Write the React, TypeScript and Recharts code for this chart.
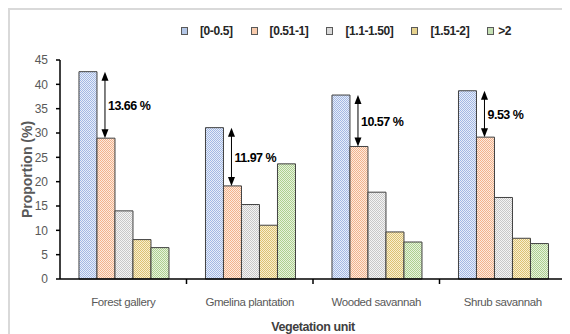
import React from "react";
import { BarChart, Bar, XAxis, YAxis, Legend, Rectangle } from "recharts";

const categories = ["Forest gallery", "Gmelina plantation", "Wooded savannah", "Shrub savannah"];
const classes = ["[0-0.5]", "[0.51-1]", "[1.1-1.50]", "[1.51-2]", ">2"];
const class1 = [42.6, 31.1, 37.8, 38.68];
const class2 = [28.94, 19.13, 27.23, 29.15];
const class3 = [14.0, 15.3, 17.84, 16.75];
const class4 = [8.1, 11.05, 9.67, 8.37];
const class5 = [6.45, 23.66, 7.6, 7.28];
const yTicks = [0, 5, 10, 15, 20, 25, 30, 35, 40, 45];

const series = [class1, class2, class3, class4, class5];
const keys = ["c1", "c2", "c3", "c4", "c5"];

// dotted fills: two-tone checker per class
const patterns = [
  { id: "pBlue", dark: "#a3b8e4", light: "#e8eef9", swatch: "#b4c7e7" },
  { id: "pOrange", dark: "#f2b38c", light: "#fdeade", swatch: "#f8cbad" },
  { id: "pGray", dark: "#c8c8c8", light: "#f4f4f4", swatch: "#d9d9d9" },
  { id: "pYellow", dark: "#dcc172", light: "#f8efd0", swatch: "#e6d28e" },
  { id: "pGreen", dark: "#add08f", light: "#e7f2de", swatch: "#c5e0b4" },
];

const data = categories.map((name, i) => {
  const row: any = { name };
  keys.forEach((k, j) => (row[k] = series[j][i]));
  return row;
});

const FONT = "'Liberation Sans', Arial, sans-serif";

// orange bar plus the double arrow up to the blue bar top and the gap label
const GapBar = (props: any) => {
  const { x, y, width, height, index, value, fill } = props;
  const top = class1[index];
  const diff = (top - class2[index]).toFixed(2);
  const unit = height / value;
  const topY = y + height - top * unit;
  const ax = x + width / 2 - 1;
  const head = 8;
  return (
    <g>
      <Rectangle x={x} y={y} width={width} height={height} fill={fill} stroke="#404040" strokeWidth={1} />
      <line x1={ax} x2={ax} y1={topY + head} y2={y - head} stroke="#000" strokeWidth={1} />
      <polygon points={`${ax},${topY} ${ax - 3.5},${topY + head + 1} ${ax + 3.5},${topY + head + 1}`} fill="#000" />
      <polygon points={`${ax},${y} ${ax - 3.5},${y - head - 1} ${ax + 3.5},${y - head - 1}`} fill="#000" />
      <text
        x={ax + 3}
        y={(topY + y) / 2 + 5}
        fontFamily={FONT}
        fontSize={12.5}
        letterSpacing={-0.5}
        fontWeight="bold"
        fill="#000"
      >
        {diff} %
      </text>
    </g>
  );
};

const CategoryTick = (props: any) => {
  const { x, y, payload, width, visibleTicksCount } = props;
  const half = payload && payload.offset ? payload.offset : width / visibleTicksCount / 2;
  return (
    <g>
      <line x1={x + half} x2={x + half} y1={y - 5} y2={y} stroke="#000" strokeWidth={1.5} />
      <text
        x={x}
        y={y + 22}
        textAnchor="middle"
        fontFamily={FONT}
        fontSize={11.5}
        letterSpacing={-0.4}
        fill="#595959"
      >
        {payload.value}
      </text>
    </g>
  );
};

const LegendBox = () => (
  <div
    style={{
      display: "flex",
      alignItems: "center",
      gap: 18,
      fontFamily: FONT,
      fontSize: 12,
      letterSpacing: -0.4,
      fontWeight: "bold",
      color: "#262626",
    }}
  >
    {classes.map((c, i) => (
      <div key={c} style={{ display: "flex", alignItems: "center" }}>
        <span
          style={{
            display: "inline-block",
            width: 5,
            height: 6,
            border: "1px solid #595959",
            background: patterns[i].swatch,
            marginRight: i === 4 ? 4 : 12,
          }}
        />
        <span>{c}</span>
      </div>
    ))}
  </div>
);

export default function App() {
  return (
    <div
      style={{
        width: 560,
        height: 324,
        borderTop: "2px solid #d9d9d9",
        borderLeft: "2px solid #d9d9d9",
        position: "relative",
        background: "#fff",
      }}
    >
      <BarChart
        width={560}
        height={324}
        data={data}
        margin={{ top: 50, right: 4, left: 0, bottom: 0 }}
        barCategoryGap="15%"
        barGap={0}
      >
        <defs>
          {patterns.map((p) => (
            <pattern key={p.id} id={p.id} width={2} height={2} patternUnits="userSpaceOnUse">
              <rect width={2} height={2} fill={p.light} />
              <rect width={1} height={1} fill={p.dark} />
              <rect x={1} y={1} width={1} height={1} fill={p.dark} />
            </pattern>
          ))}
        </defs>
        <Legend
          verticalAlign="middle"
          content={<LegendBox />}
          wrapperStyle={{ top: 14, left: 171, width: "auto" }}
        />
        <XAxis
          dataKey="name"
          height={55}
          tickSize={5}
          tickMargin={0}
          tickLine={false}
          axisLine={{ stroke: "#000", strokeWidth: 1.5 }}
          tick={<CategoryTick />}
          interval={0}
          label={{
            value: "Vegetation unit",
            position: "insideBottom",
            offset: 3,
            style: {
              fontFamily: FONT,
              fontSize: 12.5,
              letterSpacing: -0.4,
              fontWeight: "bold",
              fill: "#404040",
            },
          }}
        />
        <YAxis
          width={50}
          domain={[0, 45]}
          ticks={yTicks}
          interval={0}
          tickSize={4}
          tickMargin={8}
          tickLine={{ stroke: "#000", strokeWidth: 1.5 }}
          axisLine={{ stroke: "#000", strokeWidth: 1.5 }}
          tick={{ fontFamily: FONT, fontSize: 12, fill: "#595959" }}
          label={{
            value: "Proportion (%)",
            angle: -90,
            position: "insideLeft",
            offset: 17,
            style: {
              textAnchor: "middle",
              fontFamily: FONT,
              fontSize: 14,
              fontWeight: "bold",
              fill: "#595959",
            },
          }}
        />
        {keys.map((k, i) => (
          <Bar
            key={k}
            dataKey={k}
            name={classes[i]}
            fill={`url(#${patterns[i].id})`}
            stroke="#404040"
            strokeWidth={1}
            isAnimationActive={false}
            shape={i === 1 ? <GapBar /> : undefined}
          />
        ))}
      </BarChart>
    </div>
  );
}
